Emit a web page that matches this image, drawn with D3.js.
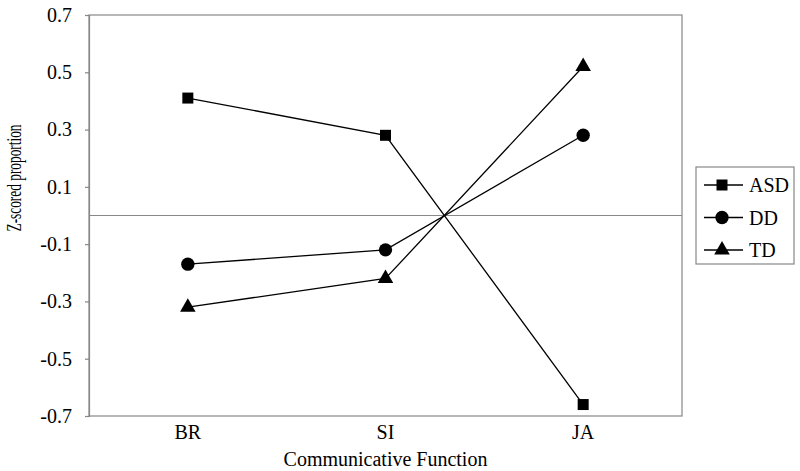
<!DOCTYPE html>
<html>
<head>
<meta charset="utf-8">
<script src="https://cdn.jsdelivr.net/npm/d3@7"></script>
<style>
  body { margin: 0; background: #fff; }
</style>
</head>
<body>
<div id="chart"></div>
<script>
// chart data
var categories = ['BR', 'SI', 'JA'];
var seriesNames = ['ASD', 'DD', 'TD'];
var asdValues = [0.41, 0.28, -0.66];
var ddValues  = [-0.17, -0.12, 0.28];
var tdValues  = [-0.32, -0.22, 0.52];
var yTicks = [-0.7, -0.5, -0.3, -0.1, 0.1, 0.3, 0.5, 0.7];
var yTickLabels = ['-0.7', '-0.5', '-0.3', '-0.1', '0.1', '0.3', '0.5', '0.7'];

var width = 800, height = 471;
var plot = {left: 89, top: 15, right: 682, bottom: 416};
var serif = "'Liberation Serif', 'Times New Roman', serif";

var svg = d3.select('#chart').append('svg')
	.attr('width', width)
	.attr('height', height)
	.attr('font-family', serif);

var x = d3.scaleBand()
	.domain(categories)
	.range([plot.left, plot.right]);

var y = d3.scaleLinear()
	.domain([-0.7, 0.7])
	.range([plot.bottom, plot.top]);

var series = [
	{name: seriesNames[0], values: asdValues, symbol: d3.symbolSquare, size: 121},
	{name: seriesNames[1], values: ddValues, symbol: d3.symbolCircle, size: 140},
	{name: seriesNames[2], values: tdValues, symbol: d3.symbolTriangle, size: 105}
];

// plot frame
svg.append('rect')
	.attr('x', plot.left)
	.attr('y', plot.top)
	.attr('width', plot.right - plot.left)
	.attr('height', plot.bottom - plot.top)
	.attr('fill', 'none')
	.attr('stroke', '#888')
	.attr('stroke-width', 1.2);

// zero line
svg.append('line')
	.attr('x1', plot.left)
	.attr('x2', plot.right)
	.attr('y1', y(0))
	.attr('y2', y(0))
	.attr('stroke', '#888')
	.attr('stroke-width', 1.2);

// y axis
var yAxis = svg.append('g')
	.attr('transform', 'translate(' + plot.left + ',0)')
	.call(d3.axisLeft(y)
		.tickValues(yTicks)
		.tickSize(4)
		.tickPadding(13)
		.tickFormat(function(d, i) { return yTickLabels[i]; }))
	.attr('font-family', serif)
	.attr('font-size', 20);
yAxis.select('.domain').attr('stroke', '#888').attr('stroke-width', 1.2);
yAxis.selectAll('.tick line').attr('stroke', '#888').attr('stroke-width', 1.2);
yAxis.selectAll('.tick text').attr('fill', '#000');

// x category labels
svg.append('g').selectAll('text')
	.data(categories)
	.enter().append('text')
	.attr('x', function(d) { return x(d) + x.bandwidth() / 2; })
	.attr('y', 439)
	.attr('text-anchor', 'middle')
	.attr('font-size', 20)
	.text(function(d) { return d; });

// axis titles
svg.append('text')
	.attr('x', 385.5)
	.attr('y', 466)
	.attr('text-anchor', 'middle')
	.attr('font-size', 20)
	.text('Communicative Function');

svg.append('text')
	.attr('transform', 'translate(21,178) rotate(-90)')
	.attr('text-anchor', 'middle')
	.attr('textLength', 107)
	.attr('lengthAdjust', 'spacingAndGlyphs')
	.attr('font-size', 21)
	.text('Z-scored proportion');

// series lines and markers
var line = d3.line()
	.x(function(d, i) { return x(categories[i]) + x.bandwidth() / 2; })
	.y(function(d) { return y(d); });

series.forEach(function(s) {
	svg.append('path')
		.datum(s.values)
		.attr('d', line)
		.attr('fill', 'none')
		.attr('stroke', '#000')
		.attr('stroke-width', 1.3);

	svg.append('g').selectAll('path')
		.data(s.values)
		.enter().append('path')
		.attr('transform', function(d, i) {
			return 'translate(' + (x(categories[i]) + x.bandwidth() / 2) + ',' + y(d) + ')';
		})
		.attr('d', d3.symbol().type(s.symbol).size(s.size))
		.attr('fill', '#000');
});

// legend
var legend = svg.append('g');
legend.append('rect')
	.attr('x', 696)
	.attr('y', 167)
	.attr('width', 98)
	.attr('height', 97)
	.attr('fill', '#fff')
	.attr('stroke', '#888')
	.attr('stroke-width', 1.2);

var rows = legend.selectAll('g.row')
	.data(series)
	.enter().append('g')
	.attr('class', 'row')
	.attr('transform', function(d, i) { return 'translate(0,' + (185 + i * 32.5) + ')'; });

rows.append('line')
	.attr('x1', 704)
	.attr('x2', 743)
	.attr('stroke', '#000')
	.attr('stroke-width', 1.3);

rows.append('path')
	.attr('transform', 'translate(722,0)')
	.attr('d', function(d) { return d3.symbol().type(d.symbol).size(d.size)(); })
	.attr('fill', '#000');

rows.append('text')
	.attr('x', 749)
	.attr('y', 7)
	.attr('font-size', 20)
	.text(function(d) { return d.name; });
</script>
</body>
</html>
